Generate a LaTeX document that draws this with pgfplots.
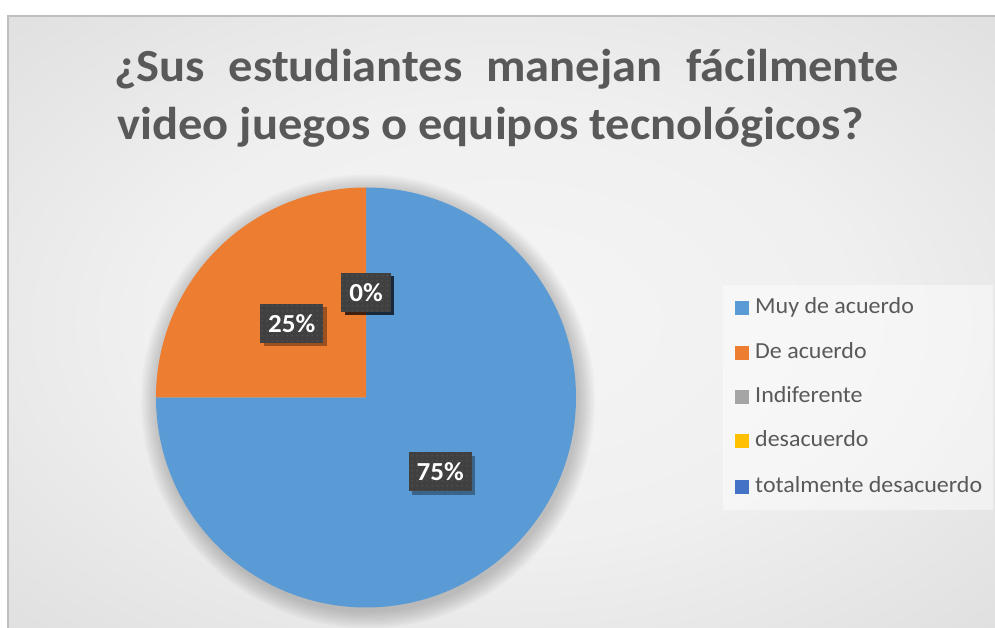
\documentclass[border=0pt]{standalone}
\usepackage{graphicx}
\usepackage{pgfplots}
\pgfplotsset{compat=1.18}
\usepackage{pgfplotstable}
\usepackage{fontspec}
\setmainfont{Carlito}
\usetikzlibrary{shadows,patterns.meta}

\definecolor{cMuy}{HTML}{5B9BD5}
\definecolor{cDe}{HTML}{ED7D31}
\definecolor{cInd}{HTML}{A5A5A5}
\definecolor{cDes}{HTML}{FFC000}
\definecolor{cTot}{HTML}{4472C4}
\definecolor{txtgray}{HTML}{595959}
\definecolor{boxgray}{HTML}{404040}

\pgfdeclareradialshading{bgshade}{\pgfpoint{0bp}{0bp}}{%
  color(0bp)=(black!4); color(18bp)=(black!6); color(72bp)=(black!25)}

\tikzdeclarepattern{name=lbldots, type=uncolored,
  bounding box={(0pt,0pt) and (5pt,5pt)}, tile size={(5pt,5pt)},
  code={\fill (2.5pt,2.5pt) circle (0.8pt);}}

\pgfplotstableread[col sep=comma]{
label,value,color
Muy de acuerdo,75,cMuy
De acuerdo,25,cDe
Indiferente,0,cInd
desacuerdo,0,cDes
totalmente desacuerdo,0,cTot
}\piedata

\tikzset{lbl/.style={fill=boxgray, text=white, font=\bfseries\fontsize{26}{30}\selectfont,
  inner xsep=8pt, minimum height=39pt,
  drop shadow={shadow xshift=3.5pt, shadow yshift=-3.5pt, fill=black, opacity=0.35},
  postaction={pattern={lbldots}, pattern color=black!62}}}

\begin{document}
\begin{tikzpicture}[x=1pt,y=1pt]
% white page and chart area
\fill[white] (0,0) rectangle (995,628);
\shade[shading=bgshade] (8,0) rectangle (995,612);
\draw[black!25, line width=1.2pt] (8,0) -- (8,612) -- (995,612);

% title
\node[anchor=base west, text=txtgray, inner sep=0pt,
  font=\bfseries\fontsize{46}{55}\selectfont] at (114,546)
  {\scalebox{1.055}[1]{\makebox[744pt][s]{¿Sus estudiantes manejan fácilmente}}};
\node[anchor=base west, text=txtgray, inner sep=0pt,
  font=\bfseries\fontsize{46}{55}\selectfont] at (117,488)
  {\scalebox{1.055}[1]{video juegos o equipos tecnológicos?}};

\begin{axis}[at={(366pt,230.5pt)}, anchor=origin,
  x=210pt, y=210pt, xmin=-1, xmax=1, ymin=-1, ymax=1,
  hide axis, clip=false]
\pgfplotsextra{%
  % soft shadow round the pie
  \foreach \r in {1,3,...,17}{
    \fill[black, opacity=0.022] (axis cs:0,0) ++(2pt,-4pt) circle[radius=210pt+\r pt];
  }
  % slices
  \gdef\angA{90}%
  \foreach \i in {0,...,4}{%
    \pgfplotstablegetelem{\i}{value}\of\piedata \let\val\pgfplotsretval
    \pgfplotstablegetelem{\i}{color}\of\piedata \let\col\pgfplotsretval
    \pgfmathsetmacro\dA{-3.6*\val}%
    \pgfmathtruncatemacro\pos{\val>0}%
    \ifnum\pos=1
      \fill[\col] (axis cs:0,0) -- +(\angA:210pt)
        arc[start angle=\angA, delta angle=\dA, radius=210pt] -- cycle;
    \fi
    \pgfmathsetmacro\newA{\angA+\dA}\global\let\angA\newA
  }%
  % data labels
  \gdef\angA{90}%
  \foreach \i in {0,...,4}{%
    \pgfplotstablegetelem{\i}{value}\of\piedata \let\val\pgfplotsretval
    \pgfmathsetmacro\dA{-3.6*\val}%
    \pgfmathsetmacro\midA{\angA+\dA/2}%
    \pgfmathtruncatemacro\v{\val}%
    \node[lbl] at ([shift={(\midA:105pt)}]axis cs:0,0) {\scalebox{1.04}[1]{\v\%}};
    \pgfmathsetmacro\newA{\angA+\dA}\global\let\angA\newA
  }%
}
\end{axis}

% legend
\fill[white, opacity=0.45] (723,118) rectangle (993,343);
\foreach \i/\yy in {0/320,1/275,2/231,3/187,4/141}{
  \pgfplotstablegetelem{\i}{label}\of\piedata \let\lab\pgfplotsretval
  \pgfplotstablegetelem{\i}{color}\of\piedata \let\col\pgfplotsretval
  \fill[\col] (735,\yy-7) rectangle (749,\yy+7);
  \node[anchor=west, inner sep=0pt, text=txtgray, font=\fontsize{23}{27}\selectfont]
    at (755,\yy) {\scalebox{1.042}[1]{\strut\lab}};
}

\pgfresetboundingbox
\path[use as bounding box] (0,0) rectangle (995,628);
\end{tikzpicture}
\end{document}
